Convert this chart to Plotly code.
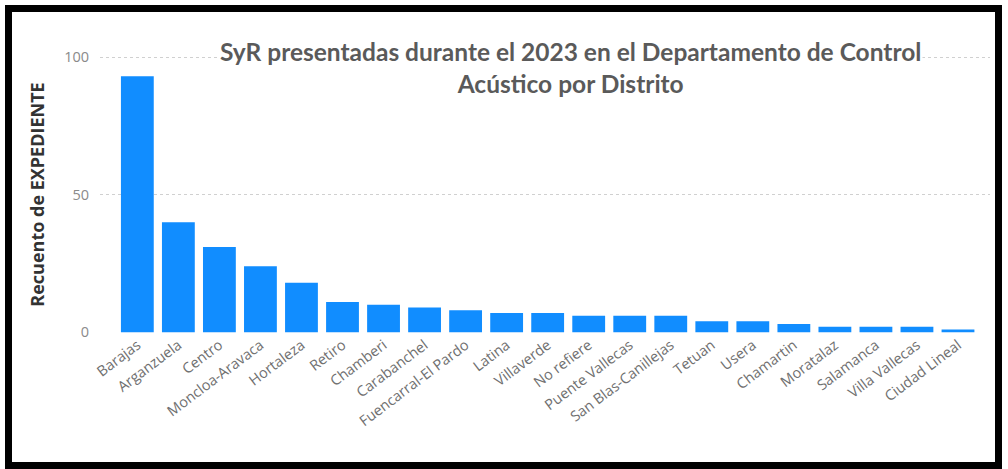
import plotly.graph_objects as go

districts = ["Barajas", "Arganzuela", "Centro", "Moncloa-Aravaca", "Hortaleza", "Retiro",
             "Chamberi", "Carabanchel", "Fuencarral-El Pardo", "Latina", "Villaverde",
             "No refiere", "Puente Vallecas", "San Blas-Canillejas", "Tetuan", "Usera",
             "Chamartin", "Moratalaz", "Salamanca", "Villa Vallecas", "Ciudad Lineal"]
counts = [93, 40, 31, 24, 18, 11, 10, 9, 8, 7, 7, 6, 6, 6, 4, 4, 3, 2, 2, 2, 1]
y_ticks = [0, 50, 100]

title_lines = ["SyR presentadas durante el 2023 en el Departamento de Control",
               "Acústico por Distrito"]
y_title = "Recuento de EXPEDIENTE"

fig = go.Figure()
fig.add_trace(go.Bar(x=districts, y=counts, marker=dict(color="#118DFF", line=dict(width=0)),
                     width=0.8, hoverinfo="skip"))

W, H = 1008, 469
L, R, T, B = 100, 18, 56, 136
pw, ph = W - L - R, H - T - B

def px_to_paper_x(px):
    return (px - L) / pw

def px_to_paper_y(py):
    return (H - B - py) / ph

fig.update_layout(
    width=W, height=H,
    margin=dict(l=L, r=R, t=T, b=B, autoexpand=False),
    paper_bgcolor="white", plot_bgcolor="white",
    showlegend=False,
    font=dict(family="Open Sans, sans-serif"),
    xaxis=dict(
        range=[-0.91, 20.78],
        tickangle=-37,
        automargin=False,
        tickfont=dict(size=14.5, color="#707070", family="Open Sans, sans-serif"),
        showgrid=False, showline=False, zeroline=False, ticks="",
    ),
    yaxis=dict(
        range=[-0.3, 100.4],
        tickvals=y_ticks,
        automargin=False,
        tickfont=dict(size=14.5, color="#8a8a8a"),
        showgrid=True, gridcolor="#d0d0d0", griddash="dot", gridwidth=1.3,
        zeroline=False, showline=False, ticks="", ticklabelstandoff=10,
        title=dict(text="<b>" + y_title + "</b>", font=dict(size=18, color="#333333"), standoff=14),
    ),
    annotations=[dict(
        text="<br>".join("<b>" + t + "</b>" for t in title_lines),
        xref="paper", yref="paper",
        x=px_to_paper_x(570), y=px_to_paper_y(68),
        xanchor="center", yanchor="middle",
        showarrow=False, align="center", bgcolor="white",
        font=dict(size=24.5, color="#5a5a5a", family="Lato, sans-serif"),
    )],
    shapes=[dict(
        type="rect", xref="paper", yref="paper",
        x0=px_to_paper_x(8.5), x1=px_to_paper_x(998.5),
        y0=px_to_paper_y(465.5), y1=px_to_paper_y(8.5),
        line=dict(color="black", width=7), fillcolor="rgba(0,0,0,0)",
        layer="above",
    )],
)

fig.write_html("out.html", config={"displayModeBar": False},
               post_script="document.body.style.margin='0';document.body.style.overflow='hidden';")
